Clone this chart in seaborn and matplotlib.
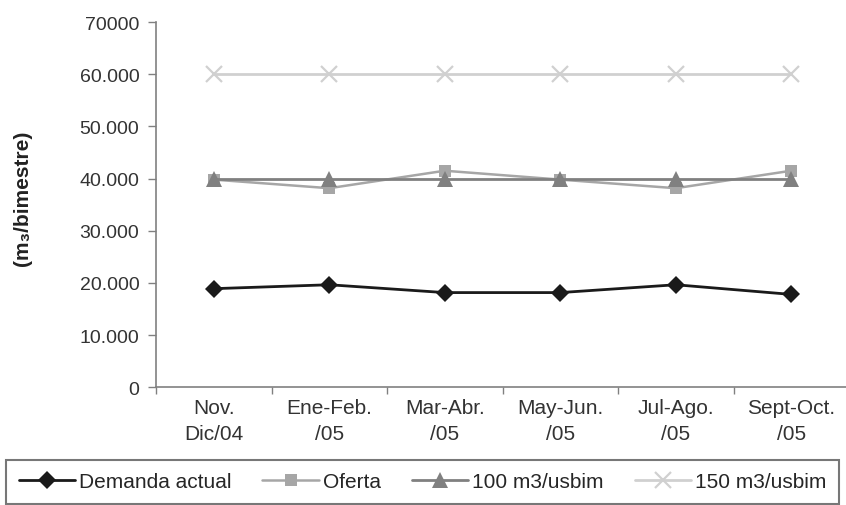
import pandas as pd
import numpy as np
import matplotlib.pyplot as plt
import seaborn as sns

periods = ['Nov.\nDic/04', 'Ene-Feb.\n/05', 'Mar-Abr.\n/05', 'May-Jun.\n/05', 'Jul-Ago.\n/05', 'Sept-Oct.\n/05']
demanda = [18900, 19650, 18150, 18150, 19650, 17800]
oferta = [39800, 38150, 41500, 39800, 38150, 41500]
dot_100 = [40000, 40000, 40000, 40000, 40000, 40000]
dot_150 = [60000, 60000, 60000, 60000, 60000, 60000]
series_names = ['Demanda actual', 'Oferta', '100 m3/usbim', '150 m3/usbim']
y_ticks = [0, 10000, 20000, 30000, 40000, 50000, 60000, 70000]
y_labels = ['0', '10.000', '20.000', '30.000', '40.000', '50.000', '60.000', '70000']

sns.set_style('white')
plt.rcParams['font.family'] = ['Liberation Sans', 'DejaVu Sans']

df = pd.DataFrame({'periodo': np.arange(len(periods)),
                   'Demanda actual': demanda, 'Oferta': oferta,
                   '100 m3/usbim': dot_100, '150 m3/usbim': dot_150})
long = df.melt(id_vars='periodo', var_name='serie', value_name='valor')

styles = {
    'Demanda actual': dict(color='#1a1a1a', marker='D', markersize=9, lw=2.0, mew=0),
    'Oferta': dict(color='#a6a6a6', marker='s', markersize=9, lw=1.8, mew=0),
    '100 m3/usbim': dict(color='#808080', marker='^', markersize=11, lw=2.0, mew=0),
    '150 m3/usbim': dict(color='#d0d0d0', marker='x', markersize=11, lw=2.0, mew=1.6),
}

fig = plt.figure(figsize=(8.46, 5.06), dpi=100)
ax = fig.add_axes([156 / 846, 1 - 388.3 / 506, 693 / 846, (388.3 - 23) / 506])

handles = []
for name in series_names:
    st = styles[name]
    sub = long[long['serie'] == name]
    sns.lineplot(data=sub, x='periodo', y='valor', ax=ax, color=st['color'],
                 marker=st['marker'], markersize=st['markersize'], linewidth=st['lw'],
                 markeredgewidth=st['mew'], markeredgecolor=st['color'], legend=False)
    handles.append(ax.lines[-1])

ax.set_xlim(-0.5, len(periods) - 0.5)
ax.set_ylim(0, 70000)
ax.set_yticks(y_ticks)
ax.set_yticklabels(y_labels, fontsize=14, color='#333333')
ax.set_xticks(np.arange(len(periods)))
ax.set_xticklabels(periods, fontsize=15, color='#333333', linespacing=1.45)
ax.set_xticks(np.arange(len(periods) + 1) - 0.5, minor=True)
ax.tick_params(axis='x', which='major', length=0, pad=8)
ax.tick_params(axis='x', which='minor', length=5, width=1, color='#808080', direction='out', bottom=True)
ax.tick_params(axis='y', length=6, width=1, color='#808080', direction='out', left=True, pad=6)
ax.set_xlabel('')
ax.set_ylabel('(m₃/bimestre)', fontsize=15, fontweight='bold', color='#222222')
ax.yaxis.set_label_coords(-124 / 693, 0.52)

sns.despine(ax=ax)
for side in ['left', 'bottom']:
    ax.spines[side].set_color('#808080')
    ax.spines[side].set_linewidth(1.2)

leg = fig.legend(handles, series_names, loc='upper left',
                 bbox_to_anchor=(6 / 846, 0, 833 / 846, 1 - 461 / 506), mode='expand',
                 ncol=4, fontsize=15, frameon=True, fancybox=False, handlelength=2.7,
                 handletextpad=0.2, borderaxespad=0, borderpad=0.6)
leg.get_frame().set_edgecolor('#555555')
leg.get_frame().set_linewidth(1.5)

fig.savefig('out.png', dpi=100)
